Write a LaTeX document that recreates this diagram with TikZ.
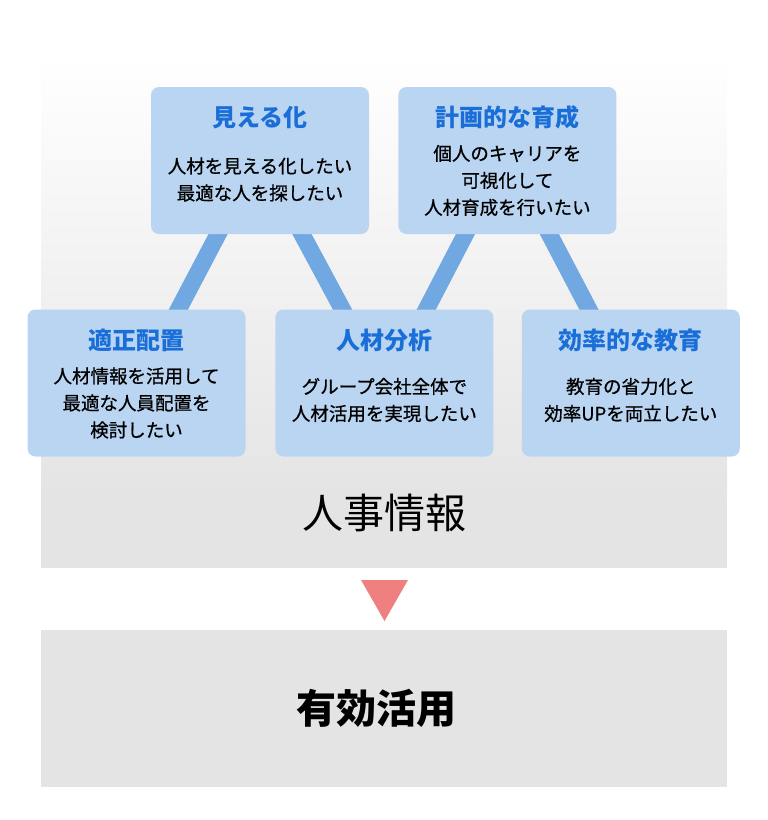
\documentclass[tikz,border=0pt]{standalone}
\usepackage{fontspec}
\usepackage{xcolor}
\usepackage{tikz}
\usetikzlibrary{positioning,calc,backgrounds}
\newfontfamily\jp{Noto Sans CJK JP}
\newfontfamily\jpmed{Noto Sans CJK JP}[FakeBold=0.7]
\definecolor{boxfill}{HTML}{BAD5F1}
\definecolor{linkblue}{HTML}{72A8E2}
\definecolor{ttl}{HTML}{1A6ED8}
\definecolor{panel}{HTML}{E4E4E4}
\definecolor{panelmid}{HTML}{EDEDED}
\definecolor{arrowred}{HTML}{F08080}
\pgfdeclarelayer{links}
\pgfsetlayers{background,links,main}

\begin{document}
\begin{tikzpicture}[x=1pt, y=-1pt,
  card/.style={fill=boxfill, rounded corners=8pt, minimum width=218pt,
    minimum height=147pt, inner sep=0pt},
  cardtitle/.style={font=\jp\bfseries\fontsize{24}{28}\selectfont, text=ttl},
  cardbody/.style={font=\jpmed\fontsize{18.5}{27}\selectfont, align=center, inner sep=0pt},
  link/.style={draw=linkblue, line width=17pt, shorten <=-6pt, shorten >=-6pt}]
\useasboundingbox (0,0) rectangle (768,820);

% grey panel behind the cards
\begin{pgfonlayer}{background}
\shade[top color=white, middle color=panelmid, bottom color=panel] (41,55) rectangle (727,497);
\fill[panel] (41,497) rectangle (727,568);
\end{pgfonlayer}
\node[font=\jp\fontsize{41}{48}\selectfont] (jinji) at (384,513) {人事情報};

% cards, top row
\node[card] (mieru) at (260,160.5) {};
\node[card, right=29pt of mieru] (keikaku) {};
% cards, bottom row
\node[card] (haichi) at (136.5,383) {};
\node[card, right=29.5pt of haichi] (bunseki) {};
\node[card, right=28pt of bunseki] (kyoiku) {};

\node[cardtitle] (mieru-t) at ($(mieru.north)+(0,31)$) {見える化};
\node[cardbody] (mieru-b) at ($(mieru.center)+(0,19)$) {人材を見える化したい\\最適な人を探したい};
\node[cardtitle] (keikaku-t) at ($(keikaku.north)+(0,31)$) {計画的な育成};
\node[cardbody] (keikaku-b) at ($(keikaku.center)+(0,20)$) {個人のキャリアを\\可視化して\\人材育成を行いたい};
\node[cardtitle] (haichi-t) at ($(haichi.north)+(0,31)$) {適正配置};
\node[cardbody] (haichi-b) at ($(haichi.center)+(0,20)$) {人材情報を活用して\\最適な人員配置を\\検討したい};
\node[cardtitle] (bunseki-t) at ($(bunseki.north)+(0,31)$) {人材分析};
\node[cardbody] (bunseki-b) at ($(bunseki.center)+(0,17)$) {グループ会社全体で\\人材活用を実現したい};
\node[cardtitle] (kyoiku-t) at ($(kyoiku.north)+(0,31)$) {効率的な教育};
\node[cardbody] (kyoiku-b) at ($(kyoiku.center)+(0,17)$) {教育の省力化と\\効率UPを両立したい};

\begin{pgfonlayer}{links}
\draw[link] ($(mieru.south)+(-42,0)$) -- ($(haichi.north)+(42,0)$);
\draw[link] ($(mieru.south)+(42,0)$) -- ($(bunseki.north)+(-42,0)$);
\draw[link] ($(keikaku.south)+(-42,0)$) -- ($(bunseki.north)+(42,0)$);
\draw[link] ($(keikaku.south)+(42,0)$) -- ($(kyoiku.north)+(-42,0)$);
\end{pgfonlayer}

% down marker and result panel
\fill[arrowred] (361,580) -- (408,580) -- (384.5,621) -- cycle;
\node[fill=panel, minimum width=686pt, minimum height=157pt, inner sep=0pt] (yuko) at (384,708.5) {};
\node[font=\jp\bfseries\fontsize{40}{48}\selectfont] (yuko-t) at ($(yuko.center)+(-8,0)$) {有効活用};

\end{tikzpicture}
\end{document}
